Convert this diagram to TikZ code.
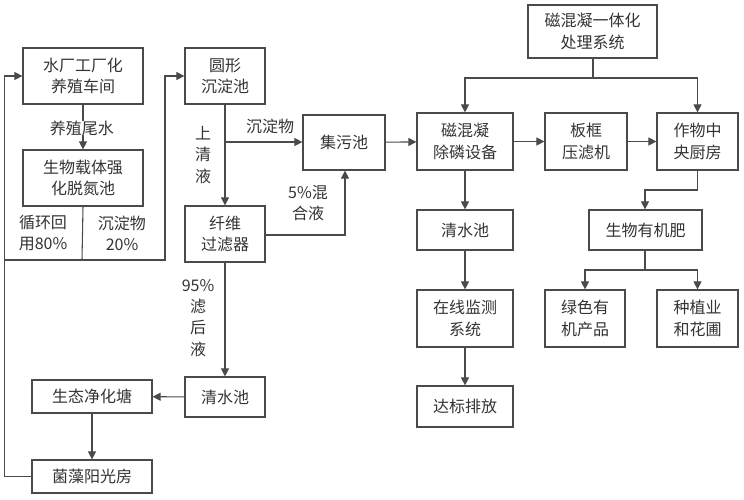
\documentclass[tikz,border=0pt]{standalone}
\usepackage{fontspec}
\newfontfamily\cjk{Noto Sans CJK SC}
\usetikzlibrary{arrows.meta}
\definecolor{ln}{HTML}{4A4A4A}
\tikzset{
 box/.style={draw=ln,line width=0.9pt,inner sep=0pt,align=center,font=\cjk\fontsize{12}{16}\selectfont,text=black!80},
 lab/.style={inner sep=0pt,align=center,font=\cjk\fontsize{12}{16}\selectfont,text=black!80},
 ln/.style={draw=ln,line width=0.8pt},
 arr/.style={ln,-{Triangle[length=6pt,width=6pt]}}
}
\newcommand\mybox[6]{\node[box,minimum width={(#4-#2)*0.75pt},minimum height={(#5-#3)*0.75pt}] (#1) at ({(#2+#4)/2},{(#3+#5)/2}) {#6};}
\begin{document}
\begin{tikzpicture}[x=0.75pt,y=-0.75pt]
\useasboundingbox (0,0) rectangle (744,500);
\mybox{sc}{23}{48}{143}{104}{水厂工厂化\\养殖车间}
\mybox{sw}{23}{150}{143}{206}{生物载体强\\化脱氮池}
\mybox{yx}{185}{48}{265}{104}{圆形\\沉淀池}
\mybox{jw}{303}{115}{385}{170}{集污池}
\mybox{xw}{185}{206}{265}{262}{纤维\\过滤器}
\mybox{qs}{185}{377}{265}{417}{清水池}
\mybox{st}{32}{380}{152}{413}{生态净化塘}
\mybox{jz}{32}{460}{152}{493}{菌藻阳光房}
\mybox{ct}{528}{5}{657}{58}{磁混凝一体化\\处理系统}
\mybox{cl}{417}{113}{513}{170}{磁混凝\\除磷设备}
\mybox{bk}{545}{113}{627}{170}{板框\\压滤机}
\mybox{zw}{657}{113}{738}{170}{作物中\\央厨房}
\mybox{qs2}{417}{210}{513}{250}{清水池}
\mybox{sy}{589}{210}{702}{250}{生物有机肥}
\mybox{zx}{417}{290}{513}{347}{在线监测\\系统}
\mybox{db}{417}{386}{513}{427}{达标排放}
\mybox{ls}{545}{290}{625}{347}{绿色有\\机产品}
\mybox{zz}{657}{290}{738}{347}{种植业\\和花圃}
% left part
\draw[arr] (jz.west) -- ++(-27,0) |- (sc.west);
\draw[arr] (sc) -- (sw);
\coordinate (j1) at (82,260);
\coordinate (jl) at (5,260);
\coordinate (jr) at (165,260);
\draw[ln] (sw.south) -- (j1);
\draw[arr] (jl) -- (jr) |- (yx.west);
\draw[arr] (yx) -- (xw);
\coordinate (b1) at (225,142);
\draw[arr] (b1) -- (b1 -| jw.west);
\coordinate (b2) at (345,235);
\draw[arr] (xw.east |- b2) -- (b2) -- (b2 |- jw.south);
\draw[arr] (xw) -- (qs);
\draw[arr] (qs) -- (st);
\draw[arr] (st.south -| jz) -- (jz);
% labels
\node[lab,fill=white] at (82,128) {养殖尾水};
\node[lab] at (43,233) {循环回\\用80\%};
\node[lab] at (122,233) {沉淀物\\20\%};
\node[lab] at (203,155) {上\\清\\液};
\node[lab] at (270,126) {沉淀物};
\node[lab] at (308,203) {5\%混\\合液};
\node[lab] at (198,318) {95\%\\滤\\后\\液};
% right part
\draw[arr] (jw) -- (cl);
\draw[arr] (cl) -- (bk);
\draw[arr] (bk) -- (zw);
\coordinate (t1) at (593,78);
\draw[ln] (ct.south -| t1) -- (t1);
\draw[arr] (t1) -| (cl.north);
\draw[arr] (t1) -| (zw.north);
\draw[arr] (cl) -- (qs2);
\draw[arr] (qs2) -- (zx);
\draw[arr] (zx) -- (db);
\coordinate (t2) at (645,190);
\draw[arr] (zw.south) |- (t2) -- (t2 |- sy.north);
\coordinate (t3) at (645,270);
\draw[ln] (sy.south -| t3) -- (t3);
\draw[arr] (t3) -| (ls.north);
\draw[arr] (t3) -| (zz.north);
\end{tikzpicture}
\end{document}
